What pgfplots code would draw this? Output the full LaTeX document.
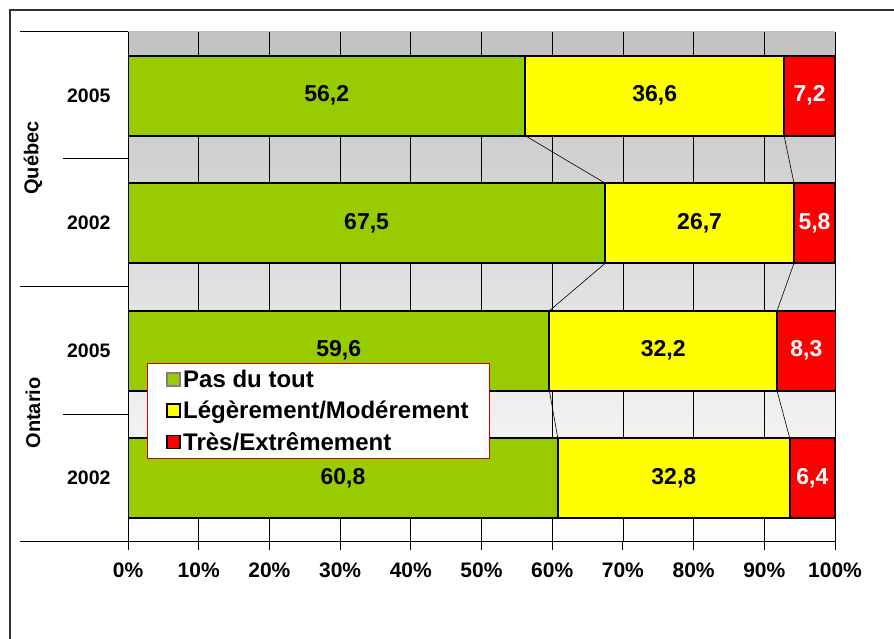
\documentclass[border=0pt]{standalone}
\usepackage{pgfplots}
\pgfplotsset{compat=1.18}
\usepackage{fontspec}
\setmainfont{Liberation Sans}
\definecolor{cgreen}{HTML}{99CC00}
\definecolor{cyellow}{HTML}{FFFF00}
\definecolor{cred}{HTML}{FF0000}
\begin{document}
\begin{tikzpicture}[x=1pt,y=1pt]
\useasboundingbox (0,0) rectangle (894,639);
\draw[line width=1.2pt, black!80] (10,-5) -- (10,629) -- (900,629);
\begin{axis}[
  at={(128pt,97pt)}, anchor=south west,
  scale only axis, width=707pt, height=510pt,
  xmin=0, xmax=100, ymin=-0.5, ymax=3.5,
  xbar stacked, bar width=80pt,
  axis x line*=bottom, axis y line*=left,
  axis line style={black, line width=1pt, -},
  axis background/.style={top color=black!24, bottom color=white},
  xmajorgrids, major grid style={black, line width=0.8pt},
  xtick={0,10,...,100},
  xticklabel={\pgfmathprintnumber{\tick}\%},
  /pgf/number format/assume math mode=true,
  tick align=outside, major tick length=8pt,
  xtick style={black, line width=1pt},
  xticklabel style={font=\bfseries\fontsize{21}{21}\selectfont, yshift=-9pt},
  ytick={0,1,2,3}, yticklabels={2002,2005,2002,2005},
  ytick style={draw=none},
  yticklabel style={font=\bfseries\fontsize{19.5}{19.5}\selectfont, xshift=-6pt},
]
\addplot[fill=cgreen, draw=black, line width=2pt] coordinates {(60.8,0) (59.6,1) (67.5,2) (56.2,3)};
\addplot[fill=cyellow, draw=black, line width=2pt] coordinates {(32.8,0) (32.2,1) (26.7,2) (36.6,3)};
\addplot[fill=cred, draw=black, line width=2pt] coordinates {(6.4,0) (8.3,1) (5.8,2) (7.2,3)};
\end{axis}
\begin{axis}[
  at={(128pt,97pt)}, anchor=south west,
  scale only axis, width=707pt, height=510pt,
  xmin=0, xmax=100, ymin=-0.5, ymax=3.5,
  hide axis, clip=false,
  /pgf/number format/assume math mode=true,
  legend style={at={(rel axis cs:0.0269,0.351)}, anchor=north west, draw=red!80!black, line width=0.8pt,
    font=\bfseries\fontsize{24}{24}\selectfont, inner xsep=19pt, inner ysep=5pt, row sep=8pt,
    /tikz/every even column/.append style={column sep=9pt}},
  legend cell align=left,
  legend image code/.code={\filldraw[line width=1.8pt,#1] (0pt,-6.5pt) rectangle (13pt,6.5pt);},
]
\addlegendimage{fill=cgreen, draw=black!50}
\addlegendentry{Pas du tout}
\addlegendimage{fill=cyellow, draw=black}
\addlegendentry{Légèrement/Modérement}
\addlegendimage{fill=cred, draw=black}
\addlegendentry{Très/Extrêmement}
\addplot[forget plot, black, line width=0.6pt] coordinates {(56.2,2.6863) (67.5,2.3137)};
\addplot[forget plot, black, line width=0.6pt] coordinates {(67.5,1.6863) (59.6,1.3137)};
\addplot[forget plot, black, line width=0.6pt] coordinates {(59.6,0.6863) (60.8,0.3137)};
\addplot[forget plot, black, line width=0.6pt] coordinates {(92.8,2.6863) (94.2,2.3137)};
\addplot[forget plot, black, line width=0.6pt] coordinates {(94.2,1.6863) (91.8,1.3137)};
\addplot[forget plot, black, line width=0.6pt] coordinates {(91.8,0.6863) (93.6,0.3137)};
\addplot[forget plot, draw=none, mark=none, point meta=explicit, nodes near coords={\pgfmathprintnumber[fixed, fixed zerofill, precision=1, use comma]{\pgfplotspointmeta}},
  nodes near coords style={anchor=center, text=black, font=\bfseries\fontsize{23}{23}\selectfont}]
  coordinates {(30.4,0) [60.8] (29.8,1) [59.6] (33.75,2) [67.5] (28.1,3) [56.2]};
\addplot[forget plot, draw=none, mark=none, point meta=explicit, nodes near coords={\pgfmathprintnumber[fixed, fixed zerofill, precision=1, use comma]{\pgfplotspointmeta}},
  nodes near coords style={anchor=center, text=black, font=\bfseries\fontsize{23}{23}\selectfont}]
  coordinates {(77.2,0) [32.8] (75.7,1) [32.2] (80.85,2) [26.7] (74.5,3) [36.6]};
\addplot[forget plot, draw=none, mark=none, point meta=explicit, nodes near coords={\pgfmathprintnumber[fixed, fixed zerofill, precision=1, use comma]{\pgfplotspointmeta}},
  nodes near coords style={anchor=center, text=white, font=\bfseries\fontsize{23}{23}\selectfont}]
  coordinates {(96.8,0) [6.4] (95.95,1) [8.3] (97.1,2) [5.8] (96.4,3) [7.2]};
\end{axis}
\draw[black, line width=1pt] (20,607) -- (128,607);
\draw[black, line width=1pt] (63,480) -- (128,480);
\draw[black, line width=1pt] (20,352) -- (128,352);
\draw[black, line width=1pt] (63,224) -- (128,224);
\draw[black, line width=1pt] (20,97) -- (128,97);
\node[rotate=90, font=\bfseries\fontsize{20}{20}\selectfont] at (33,481) {Québec};
\node[rotate=90, font=\bfseries\fontsize{20}{20}\selectfont] at (33,226) {Ontario};
\end{tikzpicture}
\end{document}
